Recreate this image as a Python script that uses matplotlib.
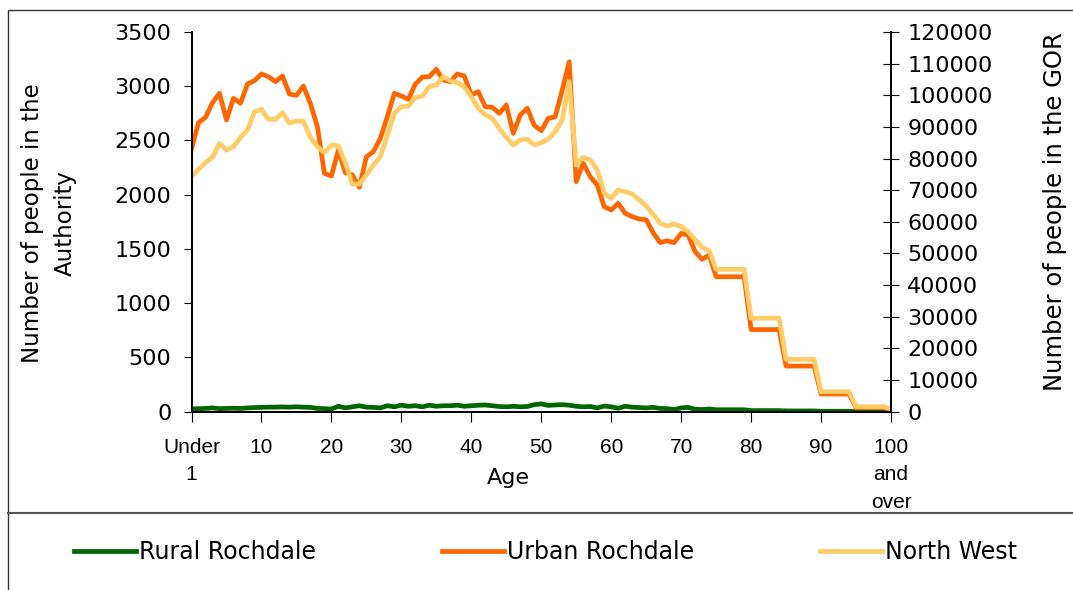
import matplotlib
matplotlib.use("Agg")
import matplotlib.pyplot as plt
from matplotlib.lines import Line2D
from matplotlib.patches import Rectangle

plt.rcParams['font.family'] = ['DejaVu Sans']

# single years of age, 0 = "Under 1", 100 = "100 and over"
ages = list(range(101))
tick_pos = [0, 10, 20, 30, 40, 50, 60, 70, 80, 90, 100]
tick_labels = ["Under\n1", "10", "20", "30", "40", "50", "60", "70", "80", "90", "100\nand\nover"]

rural = [25, 28, 30, 35, 28, 30, 32, 30, 35, 38, 40, 42, 42, 44, 42, 45, 42, 40, 30, 28,
         25, 50, 35, 45, 55, 42, 40, 35, 55, 45, 60, 50, 55, 45, 60, 50, 55, 55, 60, 50,
         55, 60, 62, 55, 48, 45, 50, 45, 48, 65, 72, 58, 62, 65, 60, 50, 45, 48, 35, 52,
         45, 32, 50, 42, 38, 35, 40, 30, 28, 20, 35, 40, 22, 20, 25, 18, 18, 18, 18, 18,
         10, 10, 10, 10, 10, 7, 7, 7, 7, 7, 4, 4, 4, 4, 4, 2, 2, 2, 2, 2, 1]

urban = [2420, 2664, 2713, 2848, 2935, 2689, 2889, 2843, 3020, 3051,
         3113, 3088, 3042, 3094, 2928, 2916, 3002, 2840, 2627, 2197,
         2173, 2412, 2203, 2182, 2068, 2350, 2397, 2520, 2719, 2935,
         2910, 2879, 3020, 3085, 3088, 3156, 3057, 3042, 3113, 3094,
         2919, 2950, 2811, 2806, 2750, 2827, 2566, 2735, 2797, 2640,
         2590, 2704, 2719, 2965, 3226, 2120, 2290, 2166, 2090, 1890,
         1859, 1921, 1829, 1798, 1776, 1770, 1650, 1558, 1576, 1558,
         1644, 1629, 1475, 1405, 1444, 1244, 1244, 1244, 1244, 1244,
         757, 757, 757, 757, 757, 421, 421, 421, 421, 421,
         163, 163, 163, 163, 163, 37, 37, 37, 37, 37, 22]

north_west = [74270, 76600, 78700, 80400, 84800, 82700, 83750, 86700, 89000, 94800,
              95550, 92400, 92400, 94500, 91150, 91900, 91800, 86700, 83750, 81850,
              84290, 83970, 78500, 71960, 71960, 74800, 77970, 80590, 87450, 94300,
              96400, 96600, 99300, 99770, 102710, 103250, 105870, 104610, 103980, 102710,
              99550, 95880, 93770, 92720, 89560, 86720, 84290, 85870, 86090, 84300,
              85000, 86090, 88490, 92190, 104300, 77970, 80400, 79550, 76390, 69020,
              67440, 70070, 69530, 68800, 66900, 65010, 62300, 59540, 58690, 59320,
              58470, 56890, 54260, 51950, 50880, 45000, 45000, 45000, 45000, 45000,
              29520, 29520, 29520, 29520, 29520, 16560, 16560, 16560, 16560, 16560,
              6320, 6320, 6320, 6320, 6320, 1580, 1580, 1580, 1580, 1580, 760]

c_rural = "#006600"
c_urban = "#FF6600"
c_nw = "#FFCC66"

W, H = 1073, 590
fig = plt.figure(figsize=(W / 100, H / 100), dpi=100)
ax = fig.add_axes([191.5 / W, 1 - 411.7 / H, 699.5 / W, 379.7 / H])
ax2 = ax.twinx()

ax.plot(ages, rural, color=c_rural, lw=3.4, solid_joinstyle='round')
ax.plot(ages, urban, color=c_urban, lw=3.4, solid_joinstyle='round')
ax2.plot(ages, north_west, color=c_nw, lw=3.4, solid_joinstyle='round')

ax.set_xlim(0, 100)
ax.set_ylim(0, 3500)
ax2.set_ylim(0, 120000)
ax.set_yticks(range(0, 3501, 500))
ax2.set_yticks(range(0, 120001, 10000))
ax.set_xticks(tick_pos)
ax.set_xticklabels(tick_labels, linespacing=1.55, multialignment='center',
                   family='Liberation Sans', fontsize=15)

for a in (ax, ax2):
    a.spines['top'].set_visible(False)
    for s in a.spines.values():
        s.set_linewidth(1.4)
ax.tick_params(axis='y', direction='out', length=5.5, width=0.8, pad=9, labelsize=16)
ax.tick_params(axis='x', direction='out', length=7, width=0.8, pad=12)
ax2.tick_params(axis='y', direction='inout', length=11.5, width=0.8, pad=6, labelsize=16)

fig.text(48.5 / W, 1 - 223 / H, "Number of people in the\nAuthority", rotation=90,
         ha='center', va='center', fontsize=16.5, linespacing=1.55)
fig.text(1055 / W, 1 - 212 / H, "Number of people in the GOR", rotation=90,
         ha='center', va='center', fontsize=17.5)
fig.text(508 / W, 1 - 478 / H, "Age", ha='center', va='center', fontsize=16)

# outer frame and legend separator
fig.patches.append(Rectangle((8 / W, -0.05), 1.1, 1 - 10 / H + 0.05, transform=fig.transFigure,
                             fill=False, edgecolor="#333333", lw=1.0))
fig.lines.append(Line2D([8 / W, 1], [1 - 513 / H, 1 - 513 / H], transform=fig.transFigure,
                        color="#555555", lw=1.5))

handles = [Line2D([], [], color=c, lw=3.4) for c in (c_rural, c_urban, c_nw)]
fig.legend(handles, ["Rural Rochdale", "Urban Rochdale", "North West"],
           loc='center', bbox_to_anchor=(545.5 / W, 1 - 552 / H), ncol=3, frameon=False,
           fontsize=17, handlelength=2.62, handletextpad=0.13, columnspacing=5.34)

fig.savefig("out.png", dpi=100)
